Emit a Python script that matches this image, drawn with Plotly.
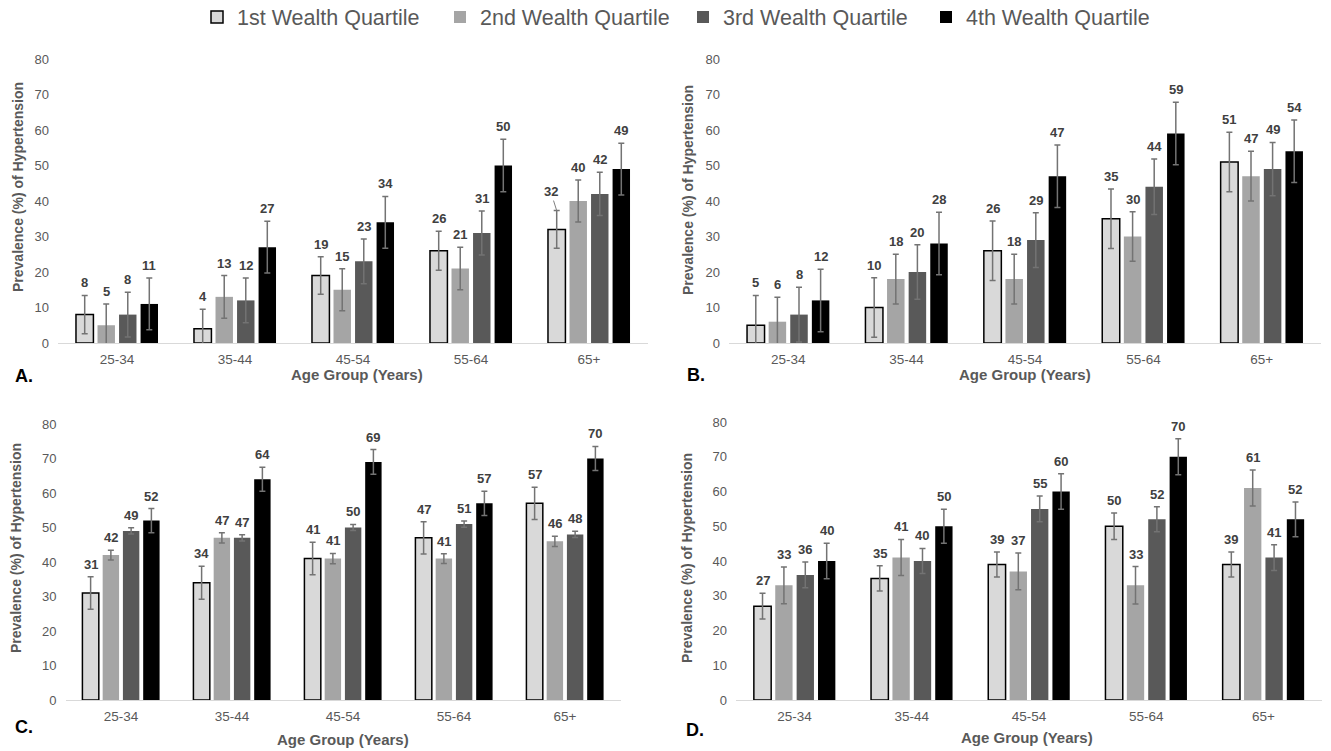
import plotly.graph_objects as go

W, H = 1331, 751

age_groups = ["25-34", "35-44", "45-54", "55-64", "65+"]
quartiles = ["1st Wealth Quartile", "2nd Wealth Quartile",
             "3rd Wealth Quartile", "4th Wealth Quartile"]

# Panel A
a_q1 = [8, 4, 19, 26, 32]
a_q2 = [5, 13, 15, 21, 40]
a_q3 = [8, 12, 23, 31, 42]
a_q4 = [11, 27, 34, 50, 49]
a_q1_err = [5.4, 5.5, 5.3, 5.5, 5.3]
a_q2_err = [6.0, 6.0, 5.9, 6.0, 5.9]
a_q3_err = [6.3, 6.3, 6.3, 6.2, 6.1]
a_q4_err = [7.3, 7.3, 7.3, 7.4, 7.3]

# Panel B
b_q1 = [5, 10, 26, 35, 51]
b_q2 = [6, 18, 18, 30, 47]
b_q3 = [8, 20, 29, 44, 49]
b_q4 = [12, 28, 47, 59, 54]
b_q1_err = [8.4, 8.4, 8.4, 8.4, 8.4]
b_q2_err = [6.9, 7.0, 7.0, 7.0, 7.0]
b_q3_err = [7.7, 7.7, 7.7, 7.8, 7.5]
b_q4_err = [8.8, 8.8, 8.8, 8.8, 8.8]

# Panel C
c_q1 = [31, 34, 41, 47, 57]
c_q2 = [42, 47, 41, 41, 46]
c_q3 = [49, 47, 50, 51, 48]
c_q4 = [52, 64, 69, 57, 70]
c_q1_err = [4.7, 4.8, 4.7, 4.7, 4.7]
c_q2_err = [1.4, 1.5, 1.5, 1.4, 1.5]
c_q3_err = [0.9, 0.9, 0.9, 0.9, 0.9]
c_q4_err = [3.5, 3.5, 3.6, 3.5, 3.5]

# Panel D
d_q1 = [27, 35, 39, 50, 39]
d_q2 = [33, 41, 37, 33, 61]
d_q3 = [36, 40, 55, 52, 41]
d_q4 = [40, 50, 60, 70, 52]
d_q1_err = [3.7, 3.6, 3.6, 3.8, 3.6]
d_q2_err = [5.3, 5.2, 5.3, 5.4, 5.2]
d_q3_err = [3.7, 3.6, 3.7, 3.6, 3.7]
d_q4_err = [5.1, 4.9, 5.1, 5.2, 5.0]

y_title = "Prevalence (%) of Hypertension"
x_title = "Age Group (Years)"

panels = [
    dict(letter="A.", values=[a_q1, a_q2, a_q3, a_q4],
         errors=[a_q1_err, a_q2_err, a_q3_err, a_q4_err]),
    dict(letter="B.", values=[b_q1, b_q2, b_q3, b_q4],
         errors=[b_q1_err, b_q2_err, b_q3_err, b_q4_err]),
    dict(letter="C.", values=[c_q1, c_q2, c_q3, c_q4],
         errors=[c_q1_err, c_q2_err, c_q3_err, c_q4_err]),
    dict(letter="D.", values=[d_q1, d_q2, d_q3, d_q4],
         errors=[d_q1_err, d_q2_err, d_q3_err, d_q4_err]),
]

# ---- layout / style (pixels) ----
# plot areas: (x_left, x_right, y_bottom(0), y_top(80))
areas = [(58, 648, 343, 59), (729, 1321, 343, 59),
         (65.5, 620.5, 700, 424), (736, 1322, 700, 422)]
ytitle_pos = [(18, 187), (688, 190), (16, 548), (687, 558)]
xtitle_pos = [(357, 374), (1025, 374), (343, 739), (1027, 737)]
letter_pos = [(13, 376), (685, 375), (13, 727), (684, 730)]

fills = ["#d9d9d9", "#a5a5a5", "#595959", "#000000"]
outline_w = [1.5, 0, 0, 0]
FONT = "Liberation Sans, Arial, sans-serif"
GRAY = "#595959"
BARGAP = 0.27
GROUPGAP = 0.19

# label with leader line: (panel, series, category) -> (ax, ay)
leaders = {(0, 0, 4): (-6, -19)}

fig = go.Figure()
annotations = []
slot = (1 - BARGAP) / 4

for p, panel in enumerate(panels):
    sfx = "" if p == 0 else str(p + 1)
    for i in range(4):
        vals = panel["values"][i]
        errs = panel["errors"][i]
        fig.add_trace(go.Bar(
            x=age_groups, y=vals, name=quartiles[i],
            xaxis="x" + sfx, yaxis="y" + sfx,
            legendgroup=quartiles[i], showlegend=(p == 0),
            marker=dict(color=fills[i],
                        line=dict(color="#000000", width=outline_w[i])),
            error_y=dict(type="data", array=errs, visible=True,
                         color="#737373", thickness=1.5, width=3),
            hoverinfo="x+y+name",
        ))
        for j, (v, e) in enumerate(zip(vals, errs)):
            xpos = j + (i - 1.5) * slot
            ann = dict(x=xpos, y=v + e, xref="x" + sfx, yref="y" + sfx,
                       text=f"<b>{v}</b>",
                       font=dict(family=FONT, size=13, color="#404040"))
            if (p, i, j) in leaders:
                ax, ay = leaders[(p, i, j)]
                ann.update(showarrow=True, arrowhead=0, arrowwidth=1,
                           arrowcolor="#7f7f7f", ax=ax, ay=ay, standoff=0)
            else:
                ann.update(showarrow=False, yanchor="bottom", yshift=3)
            annotations.append(ann)

    x0, x1, yb, yt = areas[p]
    fig.layout["xaxis" + sfx] = dict(
        domain=[x0 / W, x1 / W], anchor="y" + sfx, automargin=False,
        type="category", categoryorder="array", categoryarray=age_groups,
        range=[-0.5, 4.5], showline=True, linecolor="#d9d9d9", linewidth=1,
        showgrid=False, zeroline=False, ticks="",
        tickfont=dict(family=FONT, size=13.5, color=GRAY),
        ticklabelstandoff=4, fixedrange=True,
    )
    fig.layout["yaxis" + sfx] = dict(
        domain=[(H - yb) / H, (H - yt) / H], anchor="x" + sfx,
        automargin=False,
        range=[0, 80], dtick=10, showline=False, showgrid=False,
        zeroline=False, ticks="",
        tickfont=dict(family=FONT, size=13, color=GRAY),
        ticklabelstandoff=8, fixedrange=True,
    )

    tx, ty = ytitle_pos[p]
    annotations.append(dict(
        x=tx / W, y=1 - ty / H, xref="paper", yref="paper",
        text=f"<b>{y_title}</b>", textangle=-90, showarrow=False,
        xanchor="center", yanchor="middle",
        font=dict(family=FONT, size=14, color=GRAY)))
    tx, ty = xtitle_pos[p]
    annotations.append(dict(
        x=tx / W, y=1 - ty / H, xref="paper", yref="paper",
        text=f"<b>{x_title}</b>", showarrow=False,
        xanchor="center", yanchor="middle",
        font=dict(family=FONT, size=15, color=GRAY)))
    lx, ly = letter_pos[p]
    annotations.append(dict(
        x=lx / W, y=1 - ly / H, xref="paper", yref="paper",
        text=f"<b>{panel['letter']}</b>", showarrow=False,
        xanchor="left", yanchor="middle",
        font=dict(family=FONT, size=18, color="#000000")))

fig.update_layout(
    width=W, height=H,
    margin=dict(l=0, r=0, t=0, b=0, pad=0, autoexpand=False),
    paper_bgcolor="white", plot_bgcolor="white",
    barmode="group", bargap=BARGAP, bargroupgap=GROUPGAP,
    font=dict(family=FONT, color=GRAY),
    showlegend=True,
    legend=dict(orientation="h", x=197 / W, xanchor="left",
                y=1 - 17 / H, yanchor="middle",
                font=dict(family=FONT, size=21.5, color=GRAY),
                entrywidth=198, itemclick=False, itemdoubleclick=False,
                bgcolor="rgba(0,0,0,0)"),
    annotations=annotations,
)

fig.write_html(
    "out.html",
    config={"displayModeBar": False},
    post_script="document.body.style.margin='0';"
                "document.body.style.overflow='hidden';",
)
